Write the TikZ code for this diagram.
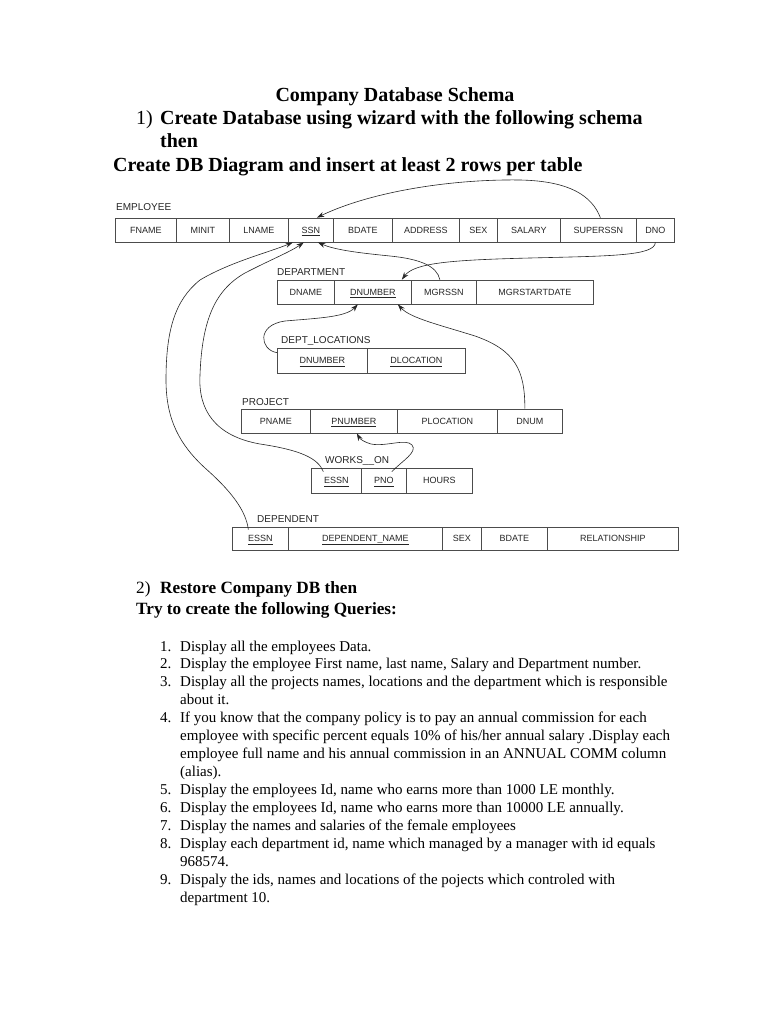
\documentclass[tikz,border=0pt]{standalone}
\usepackage{fontspec}
\setmainfont{Liberation Serif}
\newfontfamily\diagsans{Liberation Sans}
\usetikzlibrary{arrows.meta}
\newcommand\ukey[1]{\setbox0\hbox{#1}\rlap{\rule[-2.6pt]{\wd0}{0.55pt}}\box0}
\begin{document}
\begin{tikzpicture}[x=1pt,y=-1pt,
  cell/.style={draw=black!70, line width=0.7pt, inner sep=0pt, anchor=west, text height=6.4pt, text depth=0pt, font=\diagsans\fontsize{9}{10}\selectfont, text=black!85},
  tlabel/.style={anchor=base west, inner sep=0pt, font=\diagsans\fontsize{10}{12}\selectfont, text=black!85},
  head/.style={anchor=base west, inner sep=0pt, font=\bfseries\fontsize{20}{24}\selectfont},
  headnum/.style={anchor=base west, inner sep=0pt, font=\fontsize{20}{24}\selectfont},
  sec/.style={anchor=base west, inner sep=0pt, font=\bfseries\fontsize{17.2}{20}\selectfont},
  secnum/.style={anchor=base west, inner sep=0pt, font=\fontsize{17.2}{20}\selectfont},
  body/.style={anchor=base west, inner sep=0pt, font=\fontsize{15}{18}\selectfont},
  fk/.style={draw=black!85, line width=0.6pt, -{Stealth[length=7.5pt,width=5pt]}}
]
\fill[white] (0,0) rectangle (768,1024);
\useasboundingbox (0,0) rectangle (768,1024);

% ---------- headings ----------
\node[anchor=base, inner sep=0pt, font=\bfseries\fontsize{20}{24}\selectfont] (title) at (395,102) {Company Database Schema};
\node[headnum] (h1num) at (136,125) {1)};
\node[head] (h1a) at (160,125) {Create Database using wizard with the following schema};
\node[head] (h1b) at (160,148) {then};
\node[head] (h1c) at (113,171.5) {Create DB Diagram and insert at least 2 rows per table};

% ---------- EMPLOYEE ----------
\node[tlabel] (lemp) at (116,211) {EMPLOYEE};
\node[cell, minimum width=61pt, minimum height=24pt] (efname) at (115,230) {FNAME};
\node[cell, minimum width=53pt, minimum height=24pt] (eminit) at (176,230) {MINIT};
\node[cell, minimum width=59pt, minimum height=24pt] (elname) at (229,230) {LNAME};
\node[cell, minimum width=45pt, minimum height=24pt] (essn) at (288,230) {\ukey{SSN}};
\node[cell, minimum width=59pt, minimum height=24pt] (ebdate) at (333,230) {BDATE};
\node[cell, minimum width=67pt, minimum height=24pt] (eaddress) at (392,230) {ADDRESS};
\node[cell, minimum width=38pt, minimum height=24pt] (esex) at (459,230) {SEX};
\node[cell, minimum width=63pt, minimum height=24pt] (esalary) at (497,230) {SALARY};
\node[cell, minimum width=76pt, minimum height=24pt] (esuperssn) at (560,230) {SUPERSSN};
\node[cell, minimum width=38pt, minimum height=24pt] (edno) at (636,230) {DNO};

% ---------- DEPARTMENT ----------
\node[tlabel] (ldep) at (277,275) {DEPARTMENT};
\node[cell, minimum width=57pt, minimum height=24pt] (ddname) at (277,292) {DNAME};
\node[cell, minimum width=77pt, minimum height=24pt] (ddnumber) at (334,292) {\ukey{DNUMBER}};
\node[cell, minimum width=65pt, minimum height=24pt] (dmgrssn) at (411,292) {MGRSSN};
\node[cell, minimum width=117pt, minimum height=24pt] (dmgrstart) at (476,292) {MGRSTARTDATE};

% ---------- DEPT_LOCATIONS ----------
\node[tlabel] (lloc) at (281,343) {DEPT\_LOCATIONS};
\node[cell, minimum width=90pt, minimum height=25pt] (ldnumber) at (277,360.5) {\ukey{DNUMBER}};
\node[cell, minimum width=98pt, minimum height=25pt] (ldlocation) at (367,360.5) {\ukey{DLOCATION}};

% ---------- PROJECT ----------
\node[tlabel] (lproj) at (242,405) {PROJECT};
\node[cell, minimum width=69pt, minimum height=24pt] (pname) at (241,421) {PNAME};
\node[cell, minimum width=87pt, minimum height=24pt] (pnumber) at (310,421) {\ukey{PNUMBER}};
\node[cell, minimum width=100pt, minimum height=24pt] (plocation) at (397,421) {PLOCATION};
\node[cell, minimum width=65pt, minimum height=24pt] (pdnum) at (497,421) {DNUM};

% ---------- WORKS_ON ----------
\node[tlabel] (lworks) at (325,463) {WORKS\_\_ON};
\node[cell, minimum width=50pt, minimum height=25pt] (wessn) at (311,480.5) {\ukey{ESSN}};
\node[cell, minimum width=45pt, minimum height=25pt] (wpno) at (361,480.5) {\ukey{PNO}};
\node[cell, minimum width=66pt, minimum height=25pt] (whours) at (406,480.5) {HOURS};

% ---------- DEPENDENT ----------
\node[tlabel] (ldepn) at (257,522) {DEPENDENT};
\node[cell, minimum width=56pt, minimum height=23pt] (tessn) at (232,538.5) {\ukey{ESSN}};
\node[cell, minimum width=154pt, minimum height=23pt] (tname) at (288,538.5) {\ukey{DEPENDENT\_NAME}};
\node[cell, minimum width=39pt, minimum height=23pt] (tsex) at (442,538.5) {SEX};
\node[cell, minimum width=66pt, minimum height=23pt] (tbdate) at (481,538.5) {BDATE};
\node[cell, minimum width=131pt, minimum height=23pt] (trel) at (547,538.5) {RELATIONSHIP};

% ---------- connectors ----------
% SUPERSSN -> SSN
\draw[fk] ([xshift=2pt]esuperssn.north) .. controls (592,196) and (570,181) .. (520,180)
  .. controls (450,179) and (370,192) .. ([xshift=6pt]essn.north);
% DNO -> DEPARTMENT.DNUMBER
\draw[fk] (edno.south) .. controls (655,256) and (610,256) .. (530,258)
  .. controls (450,260) and (414,263) .. ([xshift=29pt]ddnumber.north);
% MGRSSN -> SSN
\draw[fk] ([xshift=-4pt]dmgrssn.north) .. controls (437,266) and (420,259) .. (390,256)
  .. controls (360,253) and (335,250) .. ([xshift=7pt]essn.south);
% DEPT_LOCATIONS.DNUMBER -> DEPARTMENT.DNUMBER
\draw[fk] ([yshift=-5pt]ldnumber.north west) .. controls (260,350) and (256,325) .. (285,321)
  .. controls (320,318) and (346,317) .. ([xshift=-15pt]ddnumber.south);
% PROJECT.DNUM -> DEPARTMENT.DNUMBER
\draw[fk] ([xshift=-5pt]pdnum.north) .. controls (525,370) and (515,350) .. (475,336)
  .. controls (440,325) and (410,318) .. ([xshift=25pt]ddnumber.south);
% WORKS_ON.PNO -> PROJECT.PNUMBER
\draw[fk] ([xshift=8pt,yshift=-4pt]wpno.north) .. controls (402,461) and (418,452) .. (412,445)
  .. controls (406,438) and (386,447) .. (371,444)
  .. controls (364,442) and (360,439) .. ([xshift=3pt]pnumber.south);
% WORKS_ON.ESSN -> SSN
\draw[fk] ([xshift=-13pt,yshift=-4pt]wessn.north) .. controls (318,458) and (300,450) .. (260,444)
  .. controls (215,436) and (198,410) .. (200,375)
  .. controls (202,320) and (215,290) .. (245,273)
  .. controls (270,260) and (290,252) .. ([xshift=-7pt]essn.south);
% DEPENDENT.ESSN -> SSN
\draw[fk] ([xshift=-12pt,yshift=-3pt]tessn.north) .. controls (246,510) and (230,490) .. (205,468)
  .. controls (180,445) and (166,420) .. (166,380)
  .. controls (166,330) and (175,300) .. (200,280)
  .. controls (230,262) and (270,252) .. ([xshift=-18pt]essn.south);

% ---------- section 2 ----------
\node[secnum] (h2num) at (136,593) {2)};
\node[sec] (h2a) at (160,593) {Restore Company DB then};
\node[sec] (h2b) at (136,614) {Try to create the following Queries:};

% ---------- query list ----------
\node[body] (n1) at (160,651) {1.};
\node[body] (q1) at (180,651) {Display all the employees Data.};
\node[body] (n2) at (160,668.93) {2.};
\node[body] (q2) at (180,668.93) {Display the employee First name, last name, Salary and Department number.};
\node[body] (n3) at (160,686.86) {3.};
\node[body] (q3) at (180,686.86) {Display all the projects names, locations and the department which is responsible};
\node[body] (q4) at (180,704.79) {about it.};
\node[body] (n4) at (160,722.72) {4.};
\node[body] (q5) at (180,722.72) {If you know that the company policy is to pay an annual commission for each};
\node[body] (q6) at (180,740.65) {employee with specific percent equals 10\% of his/her annual salary .Display each};
\node[body] (q7) at (180,758.58) {employee full name and his annual commission in an ANNUAL COMM column};
\node[body] (q8) at (180,776.51) {(alias).};
\node[body] (n5) at (160,794.44) {5.};
\node[body] (q9) at (180,794.44) {Display the employees Id, name who earns more than 1000 LE monthly.};
\node[body] (n6) at (160,812.37) {6.};
\node[body] (q10) at (180,812.37) {Display the employees Id, name who earns more than 10000 LE annually.};
\node[body] (n7) at (160,830.3) {7.};
\node[body] (q11) at (180,830.3) {Display the names and salaries of the female employees};
\node[body] (n8) at (160,848.23) {8.};
\node[body] (q12) at (180,848.23) {Display each department id, name which managed by a manager with id equals};
\node[body] (q13) at (180,866.16) {968574.};
\node[body] (n9) at (160,884.09) {9.};
\node[body] (q14) at (180,884.09) {Dispaly the ids, names and locations of  the pojects which controled with};
\node[body] (q15) at (180,902.02) {department 10.};
\end{tikzpicture}
\end{document}
